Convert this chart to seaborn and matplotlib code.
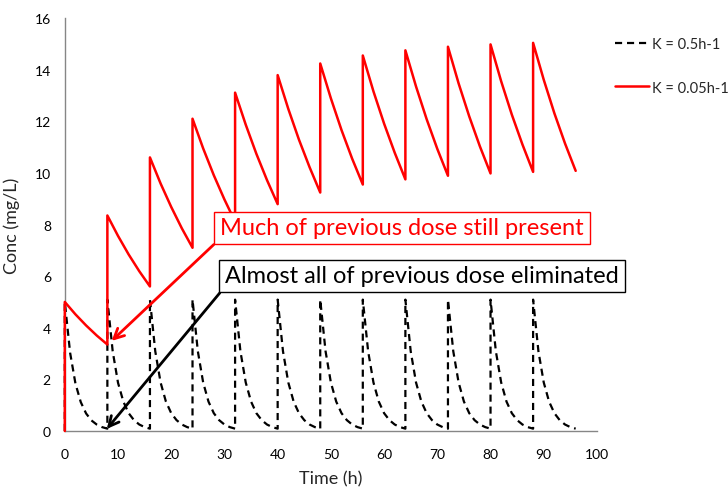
import numpy as np
import pandas as pd
import matplotlib
matplotlib.use("Agg")
import matplotlib.pyplot as plt
import seaborn as sns

# dose given every 8 h
dose_times = [0, 8, 16, 24, 32, 40, 48, 56, 64, 72, 80, 88]

# K = 0.5 h-1 : hourly readings after each dose (0..8 h)
black_hours = [0, 1, 2, 3, 4, 5, 6, 7, 8]
black_conc = [
    [5.00, 3.03, 1.84, 1.12, 0.68, 0.41, 0.25, 0.15, 0.09],
    [5.09, 3.09, 1.87, 1.14, 0.69, 0.42, 0.25, 0.15, 0.09],
    [5.09, 3.09, 1.88, 1.14, 0.69, 0.42, 0.25, 0.15, 0.09],
    [5.09, 3.09, 1.88, 1.14, 0.69, 0.42, 0.25, 0.15, 0.09],
    [5.09, 3.09, 1.88, 1.14, 0.69, 0.42, 0.25, 0.15, 0.09],
    [5.09, 3.09, 1.88, 1.14, 0.69, 0.42, 0.25, 0.15, 0.09],
    [5.09, 3.09, 1.88, 1.14, 0.69, 0.42, 0.25, 0.15, 0.09],
    [5.09, 3.09, 1.88, 1.14, 0.69, 0.42, 0.25, 0.15, 0.09],
    [5.09, 3.09, 1.88, 1.14, 0.69, 0.42, 0.25, 0.15, 0.09],
    [5.09, 3.09, 1.88, 1.14, 0.69, 0.42, 0.25, 0.15, 0.09],
    [5.09, 3.09, 1.88, 1.14, 0.69, 0.42, 0.25, 0.15, 0.09],
    [5.09, 3.09, 1.88, 1.14, 0.69, 0.42, 0.25, 0.15, 0.09],
]

# K = 0.05 h-1 : readings every 2 h after each dose (0..8 h)
red_hours = [0, 2, 4, 6, 8]
red_conc = [
    [5.00, 4.52, 4.09, 3.70, 3.35],
    [8.35, 7.56, 6.84, 6.19, 5.60],
    [10.60, 9.59, 8.68, 7.85, 7.10],
    [12.10, 10.95, 9.91, 8.97, 8.11],
    [13.11, 11.87, 10.74, 9.72, 8.79],
    [13.79, 12.48, 11.29, 10.22, 9.24],
    [14.24, 12.89, 11.66, 10.55, 9.55],
    [14.55, 13.16, 11.91, 10.78, 9.75],
    [14.75, 13.35, 12.08, 10.93, 9.89],
    [14.89, 13.47, 12.19, 11.03, 9.98],
    [14.98, 13.55, 12.26, 11.10, 10.04],
    [15.04, 13.61, 12.31, 11.14, 10.08],
]


def build(hours, conc):
    t, c = [0], [0.0]
    for d, row in zip(dose_times, conc):
        for h, v in zip(hours, row):
            t.append(d + h)
            c.append(v)
    return pd.DataFrame({"time": t, "conc": c})


df_black = build(black_hours, black_conc)
df_red = build(red_hours, red_conc)

sns.set_style("white")
plt.rcParams['font.family'] = ['Lato', 'DejaVu Sans']

fig, ax = plt.subplots(figsize=(7.28, 4.89), dpi=100)
fig.subplots_adjust(left=0.089, right=0.82, bottom=0.1166, top=0.961)

sns.lineplot(data=df_black, x="time", y="conc", sort=False, estimator=None,
             color="black", lw=1.6, ax=ax, label="K = 0.5h-1")
ax.lines[-1].set_dashes([3.2, 2.2])
sns.lineplot(data=df_red, x="time", y="conc", sort=False, estimator=None,
             color="#ff0000", lw=1.8, ax=ax, label="K = 0.05h-1")
for ln in ax.lines:
    ln.set_clip_on(False)
    ln.set_zorder(3)

ax.set_xlim(0, 100)
ax.set_ylim(0, 16)
ax.set_xticks(range(0, 101, 10))
ax.set_yticks(range(0, 17, 2))
ax.set_xlabel("Time (h)", fontsize=13)
ax.set_ylabel("Conc (mg/L)", fontsize=13)
ax.xaxis.set_label_coords(0.5, -0.095)
ax.yaxis.set_label_coords(-0.085, 0.5)

for s in ["top", "right"]:
    ax.spines[s].set_visible(False)
for s in ["left", "bottom"]:
    ax.spines[s].set_color("#868686")
    ax.spines[s].set_linewidth(1)
    ax.spines[s].set_zorder(1)
ax.tick_params(axis="both", direction="out", length=4, color="#868686",
               labelsize=10, labelcolor="black", width=1)
ax.tick_params(axis="x", pad=8)
ax.tick_params(axis="y", pad=6)

ax.legend(loc="upper left", bbox_to_anchor=(1.01, 0.985), frameon=False,
          fontsize=10.5, handlelength=2.3, handletextpad=0.2, labelspacing=2.0)

ax.annotate("Much of previous dose still present", xy=(8.8, 3.49), xycoords="data",
            xytext=(402, 260), textcoords="figure pixels", ha="center", va="center",
            fontsize=17, color="#ff0000", zorder=5,
            bbox=dict(boxstyle="square,pad=0.25", fc="white", ec="#ff0000", lw=1),
            arrowprops=dict(arrowstyle="->", color="#ff0000", lw=2, relpos=(0, 0),
                            mutation_scale=18, shrinkA=0, shrinkB=0))
ax.annotate("Almost all of previous dose eliminated", xy=(7.9, 0.08), xycoords="data",
            xytext=(422, 212), textcoords="figure pixels", ha="center", va="center",
            fontsize=17, color="black", zorder=5,
            bbox=dict(boxstyle="square,pad=0.25", fc="white", ec="black", lw=1),
            arrowprops=dict(arrowstyle="->", color="black", lw=2, relpos=(0, 0),
                            mutation_scale=18, shrinkA=0, shrinkB=0))

fig.savefig("out.png", dpi=100)
